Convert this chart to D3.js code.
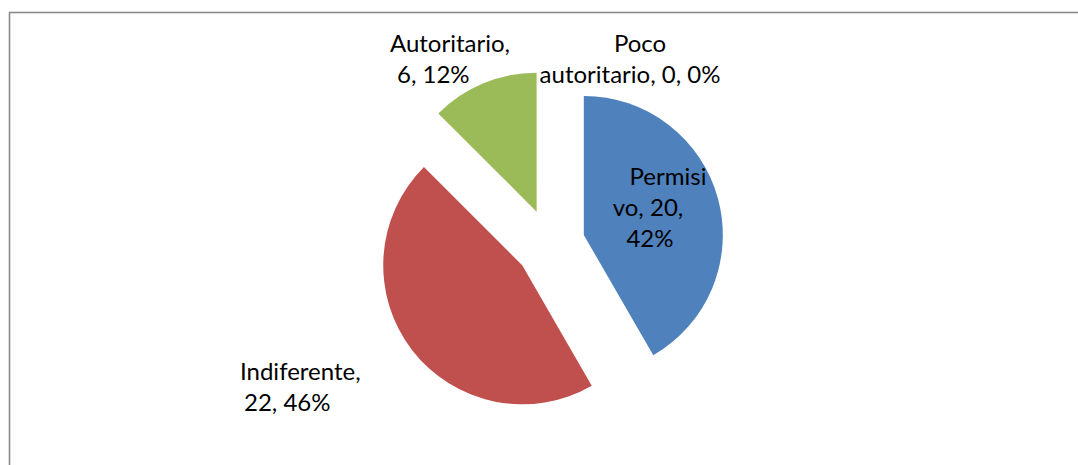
<!DOCTYPE html>
<html>
<head>
<meta charset="utf-8">
<script src="https://cdn.jsdelivr.net/npm/d3@7"></script>
<style>
	body { margin: 0; background: #fff; }
	svg text { font-family: Lato, "Open Sans", sans-serif; font-size: 24px; fill: #000; }
</style>
</head>
<body>
<svg id="chart" width="1078" height="465"></svg>
<script>
// data
var categories = ['Permisivo', 'Indiferente', 'Autoritario', 'Poco autoritario'];
var values = [20, 22, 6, 0];
var percents = ['42%', '46%', '12%', '0%'];
var colors = ['#4F81BD', '#C0504D', '#9BBB59', '#8064A2'];

// how Excel wrapped each data label
var labelLines = [
	['Permisi', 'vo, 20,', '42%'],
	['Indiferente,', '22, 46%'],
	['Autoritario,', '6, 12%'],
	['Poco', 'autoritario, 0, 0%']
];

var svg = d3.select('#chart');

// chart area frame
svg.append('rect')
	.attr('x', 9.5)
	.attr('y', 12.5)
	.attr('width', 1200)
	.attr('height', 600)
	.attr('fill', 'none')
	.attr('stroke', '#8a8a8a')
	.attr('stroke-width', 1.6);

var cx = 550, cy = 244, radius = 139, explode = 35, lineHeight = 31;

var pie = d3.pie().sort(null).value(function (d) { return d; });
var arc = d3.arc().innerRadius(0).outerRadius(radius);
var arcs = pie(values);

function offset(d, dist) {
	var mid = (d.startAngle + d.endAngle) / 2;
	return [Math.sin(mid) * dist, -Math.cos(mid) * dist];
}

var g = svg.append('g').attr('transform', 'translate(' + cx + ',' + cy + ')');

g.selectAll('path.slice')
	.data(arcs)
	.enter()
	.append('path')
	.attr('class', 'slice')
	.attr('transform', function (d) {
		var o = offset(d, explode);
		return 'translate(' + o[0] + ',' + o[1] + ')';
	})
	.attr('d', arc)
	.attr('fill', function (d, i) { return colors[i]; });

// label placement, relative to the pie centre (x of block, y of first line)
var labelPlace = [
	{ dx: 110, dy: -69, anchor: 'middle', shift: [8, -12, -10] },
	{ dx: -310, dy: 126, anchor: 'start', shift: [0, 4] },
	{ dx: -160, dy: -202, anchor: 'start', shift: [0, 7] },
	{ dx: 80, dy: -202, anchor: 'middle', shift: [10, 0] }
];

var labels = g.selectAll('text.label')
	.data(arcs)
	.enter()
	.append('text')
	.attr('class', 'label')
	.attr('text-anchor', function (d, i) { return labelPlace[i].anchor; })
	.attr('data-category', function (d, i) { return categories[i] + ', ' + values[i] + ', ' + percents[i]; });

labels.each(function (d, i) {
	var t = d3.select(this);
	var p = labelPlace[i];
	labelLines[i].forEach(function (line, k) {
		t.append('tspan')
			.attr('x', p.dx + p.shift[k])
			.attr('y', p.dy + k * lineHeight)
			.attr('dominant-baseline', 'central')
			.text(line);
	});
});
</script>
</body>
</html>
